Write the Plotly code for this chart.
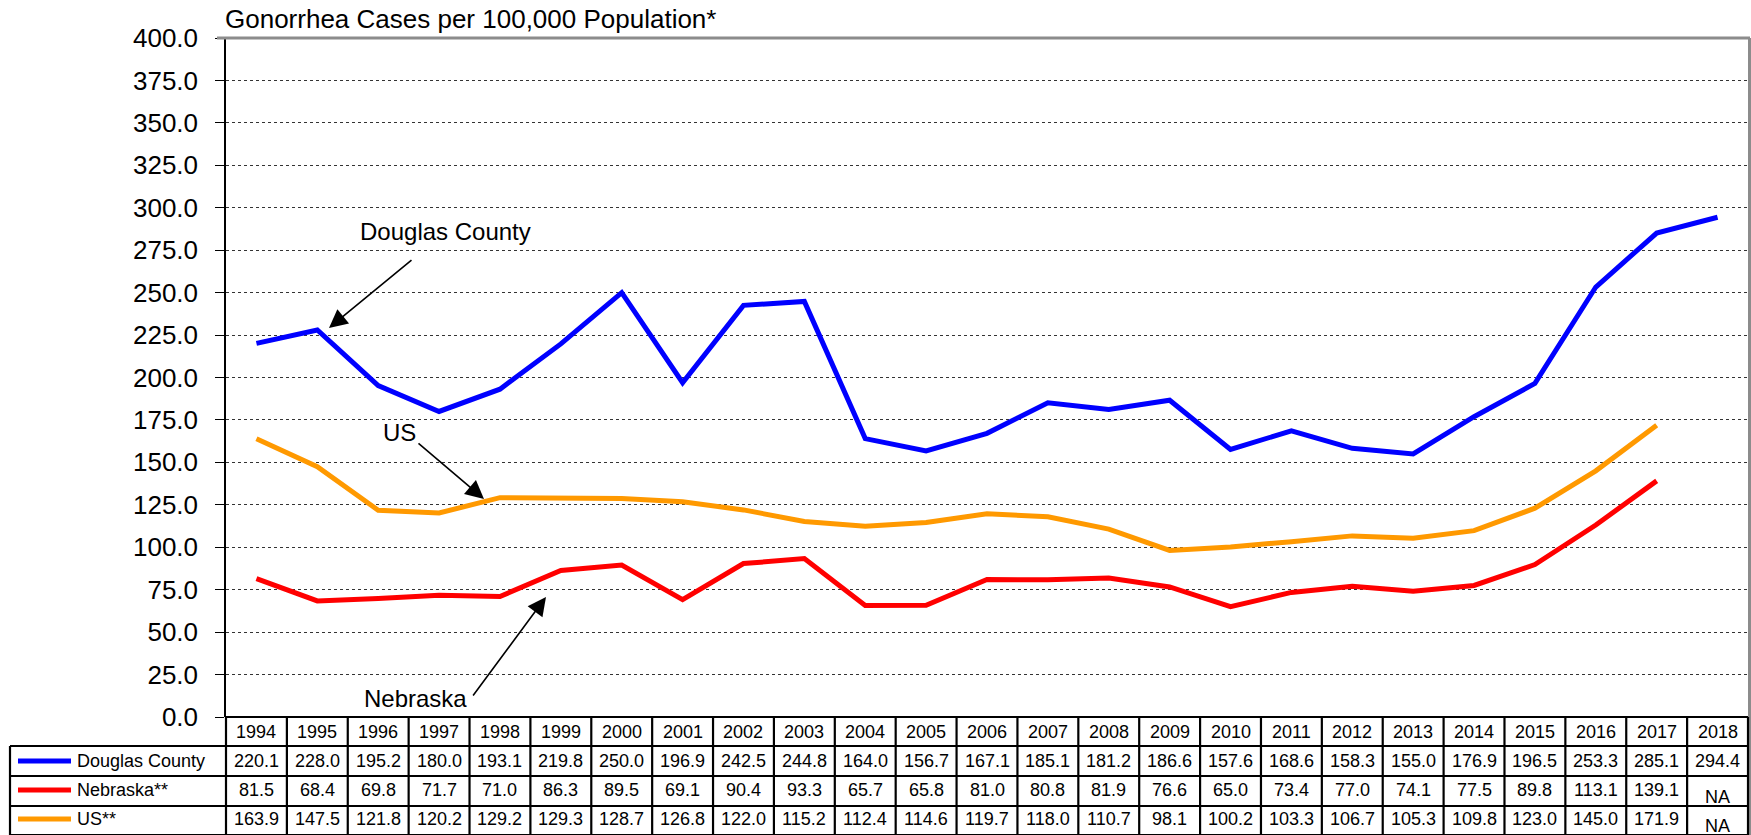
import plotly.graph_objects as go

# ---- data ----
years = [str(y) for y in range(1994, 2019)]
douglas = [220.1, 228.0, 195.2, 180.0, 193.1, 219.8, 250.0, 196.9, 242.5, 244.8, 164.0, 156.7,
           167.1, 185.1, 181.2, 186.6, 157.6, 168.6, 158.3, 155.0, 176.9, 196.5, 253.3, 285.1, 294.4]
nebraska = [81.5, 68.4, 69.8, 71.7, 71.0, 86.3, 89.5, 69.1, 90.4, 93.3, 65.7, 65.8,
            81.0, 80.8, 81.9, 76.6, 65.0, 73.4, 77.0, 74.1, 77.5, 89.8, 113.1, 139.1, None]
us = [163.9, 147.5, 121.8, 120.2, 129.2, 129.3, 128.7, 126.8, 122.0, 115.2, 112.4, 114.6,
      119.7, 118.0, 110.7, 98.1, 100.2, 103.3, 106.7, 105.3, 109.8, 123.0, 145.0, 171.9, None]
series_names = ["Douglas County", "Nebraska**", "US**"]
series_colors = ["#0000FF", "#FF0000", "#FF9900"]
series_values = [douglas, nebraska, us]
y_ticks = [i * 25 for i in range(17)]
title_text = "Gonorrhea Cases per 100,000 Population*"

# ---- layout geometry (pixels) ----
W, H = 1751, 835
L, R, T, B = 226, 1748, 38, 717
FONT = "Liberation Sans, Arial, sans-serif"


def px2x(px):
    return (px - L) / (R - L)


def py2y(py):
    return (B - py) / (B - T)


fig = go.Figure()
for name, vals, col in zip(series_names, series_values, series_colors):
    fig.add_trace(go.Scatter(x=years, y=vals, mode="lines", name=name,
                             line=dict(color=col, width=5), connectgaps=False,
                             showlegend=False))

shapes = []
annotations = []

# plot frame: gray top & right border
shapes.append(dict(type="line", xref="paper", yref="paper", x0=px2x(L - 9), x1=px2x(1750),
                   y0=1, y1=1, line=dict(color="#8c8c8c", width=3)))
shapes.append(dict(type="line", xref="paper", yref="paper", x0=px2x(1749.5), x1=px2x(1749.5),
                   y0=1, y1=py2y(835), line=dict(color="#8c8c8c", width=3)))

# table geometry
row_lines = [717, 746, 776, 806, 835]
row_centers = [732, 761, 790, 819]
ncol = len(years)
black = dict(color="black", width=2.2)


def col_center(i):
    return (i + 0.5) / ncol


# horizontal lines
shapes.append(dict(type="line", xref="paper", yref="paper", x0=0, x1=px2x(R),
                   y0=py2y(row_lines[0]), y1=py2y(row_lines[0]), line=black))
for ry in row_lines[1:]:
    shapes.append(dict(type="line", xref="paper", yref="paper", x0=px2x(10), x1=px2x(R),
                       y0=py2y(ry), y1=py2y(ry), line=black))
# vertical lines
for i in range(ncol + 1):
    xp = i / ncol
    shapes.append(dict(type="line", xref="paper", yref="paper", x0=xp, x1=xp,
                       y0=py2y(row_lines[0]), y1=py2y(835), line=black))
shapes.append(dict(type="line", xref="paper", yref="paper", x0=px2x(10), x1=px2x(10),
                   y0=py2y(row_lines[1]), y1=py2y(835), line=black))

cell_font = dict(family=FONT, size=18, color="black")
# header row (years)
for i, yr in enumerate(years):
    annotations.append(dict(x=col_center(i), xref="paper", y=py2y(row_centers[0]), yref="paper",
                            text=yr, showarrow=False, xanchor="center", yanchor="middle",
                            font=cell_font))
# data rows
for r, (name, vals, col) in enumerate(zip(series_names, series_values, series_colors)):
    cy = row_centers[r + 1]
    shapes.append(dict(type="line", xref="paper", yref="paper", x0=px2x(18), x1=px2x(71),
                       y0=py2y(cy), y1=py2y(cy), line=dict(color=col, width=5)))
    annotations.append(dict(x=px2x(75), xref="paper", y=py2y(cy), yref="paper",
                            text=name, showarrow=False, xanchor="left", yanchor="middle",
                            font=cell_font))
    for i, v in enumerate(vals):
        if v is None:
            txt, yy = "NA", cy + 7
        else:
            txt, yy = f"{v:.1f}", cy
        annotations.append(dict(x=col_center(i), xref="paper", y=py2y(yy), yref="paper",
                                text=txt, showarrow=False, xanchor="center", yanchor="middle",
                                font=cell_font))

# title
annotations.append(dict(x=px2x(223), xref="paper", y=py2y(19), yref="paper",
                        text=title_text, showarrow=False, xanchor="left", yanchor="middle",
                        font=dict(family=FONT, size=26, color="black")))

# callouts: (label, text center px, arrow tail px, arrow head px)
callouts = [
    ("Douglas County", (445, 231), (413, 259), (329, 328)),
    ("US", (399, 433), (417, 442), (484, 499)),
    ("Nebraska", (415, 698), (472, 697), (546, 597)),
]
for label, (tx, ty), (ax_, ay_), (hx, hy) in callouts:
    annotations.append(dict(x=px2x(tx), xref="paper", y=py2y(ty), yref="paper",
                            text=label, showarrow=False, xanchor="center", yanchor="middle",
                            font=dict(family=FONT, size=24, color="black")))
    annotations.append(dict(x=px2x(hx), xref="paper", y=py2y(hy), yref="paper",
                            text="", showarrow=True, arrowhead=2, arrowsize=2.3,
                            arrowwidth=1.6, arrowcolor="black",
                            ax=ax_ - hx, ay=ay_ - hy, axref="pixel", ayref="pixel"))

fig.update_layout(
    width=W, height=H,
    margin=dict(l=L, r=W - R, t=T, b=H - B, pad=0),
    paper_bgcolor="white", plot_bgcolor="white",
    showlegend=False,
    shapes=shapes, annotations=annotations,
    font=dict(family=FONT, color="black"),
    xaxis=dict(type="category", categoryorder="array", categoryarray=years,
               range=[-0.5, ncol - 0.5], showticklabels=False, ticks="",
               showgrid=False, zeroline=False, showline=False, fixedrange=True),
    yaxis=dict(range=[0, 400], tickvals=y_ticks, ticktext=[f"{v:.1f}" for v in y_ticks],
               ticks="outside", ticklen=9, tickwidth=1, tickcolor="black",
               tickfont=dict(family=FONT, size=26, color="black"), ticklabelstandoff=12,
               showline=True, linecolor="black", linewidth=1.5,
               showgrid=True, gridcolor="#333333", gridwidth=1, griddash="dot",
               zeroline=False, fixedrange=True),
)

fig.write_html("out.html", config={"displayModeBar": False},
               post_script="document.body.style.margin='0px';document.body.style.overflow='hidden';")
